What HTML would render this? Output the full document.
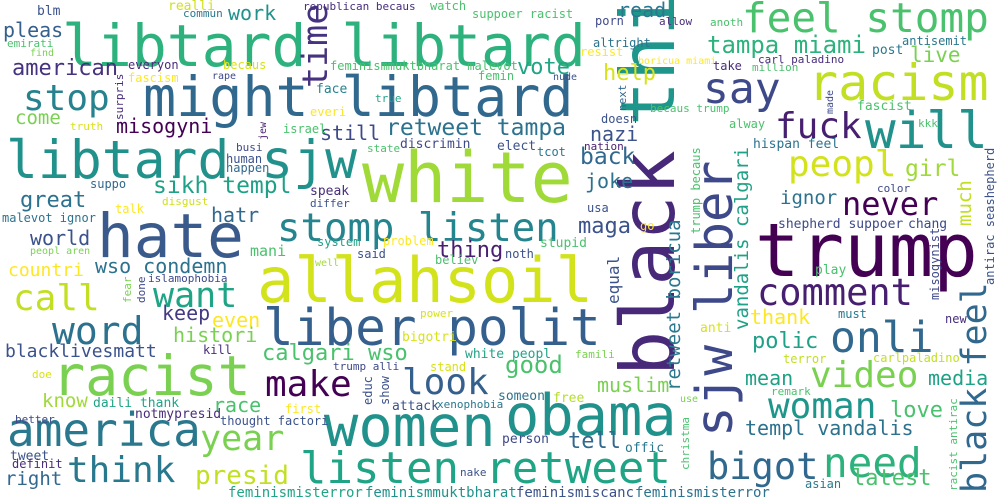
<!DOCTYPE html>
<html>
<head>
<meta charset="utf-8">
<style>
html,body{margin:0;padding:0;background:#fff;}
svg{display:block;}
text{font-family:"DejaVu Sans Mono","Liberation Mono",monospace;}
</style>
</head>
<body>
<svg id="cloud" width="1000" height="500" viewBox="0 0 1000 500">
<rect width="1000" height="500" fill="#ffffff"></rect>
</svg>
<script>
// words, font sizes (frequency weight), placements
const words = ["libtard libtard","time","might libtard","libtard sjw","hate","stomp listen","white","allahsoil","liber polit","black","thi","sjw liber","trump","racist","america","women","obama","listen retweet","feel stomp","racism","will","fuck","say","peopl","girl","never","comment","onli","video","woman","need","bigot","black feel","make","look","year","think","presid","call","want","word","stop","american","pleas","work","retweet tampa","sikh templ","great","hatr","world","still","tampa miami","vote","help","read","back","nazi","joke","maga","misogyni","come","countri","wso condemn","keep","even","histori","blacklivesmatt","calgari wso","know","race","right","good","muslim","tell","polic","thank","mean","media","love","templ vandalis","latest","ignor","live","retweet boricua","vandalis calgari","equal","much","thing"];
const sizes = [58,35,55,53,61,39,70,62,51,75,75,51,74,55,46,57,57,44,41,50,51,36,43,36,23,32,37,43,36,36,41,37,35,36,36,35,36,26,36,35,38,36,22,20,20,23,23,22,20,20,20,24,22,22,20,23,20,20,22,20,19,18,20,20,20,20,18,22,19,20,19,24,20,22,22,20,20,20,22,20,22,19,21,19,19,16,19,22];
const smallWords = ["blm","realli","commun","emirati","find","everyon","becaus","fascism","rape","surpris","truth","face","everi","israel","jew","feminismmuktbharat malevot","busi","human","happen","suppo","speak","differ","disgust","talk","malevot ignor","system","mani","peopl aren","well","islamophobia","fear","done","kill","trump alli","doe","daili thank","first","better","notmypresid","thought factori","tweet","definit","republican becaus","watch","suppoer racist","porn","allow","anoth","altright","resist","boricua miami","take","femin","nude","true","becaus trump","next","doesn","discrimin","elect","tcot","nation","state","trump becaus","usa","go","problem","stupid","said","noth","believ","power","bigotri","anti","white peopl","famili","stand","educ","show","someon","free","use","attack","xenophobia","person","offic","christma","nake","antisemit","post","carl paladino","million","made","fascist","alway","kkk","hispan feel","color","shepherd suppoer","chang","antirac seashepherd","play","misogynist","must","new","terror","carlpaladino","remark","racist antirac","asian","feminismisterror","feminismmuktbharat","feminismiscanc","feminismisterror"];
const smallSizes = [13,13,11,11,10,12,12,12,10,11,11,13,12,12,10,12,11,12,12,12,13,11,11,12,12,12,15,10,10,11,11,11,12,11,11,13,12,11,13,12,13,12,11,12,12,12,11,11,12,12,10,12,12,10,11,11,11,12,13,13,12,11,11,12,12,12,12,13,12,12,12,11,13,13,13,11,12,12,12,13,13,10,13,11,13,13,11,11,12,13,11,11,10,13,12,11,13,11,13,13,12,13,12,12,12,12,12,11,11,12,14,14,14,14];

// layout: [x, baselineY, color, rotated]
const bigLayout = [
[62,66,"#2db27d",0],[327,88,"#46327e",1],[143,116,"#31688e",0],[6,178,"#21918c",0],[97,257,"#3b5a8c",0],
[277,241,"#25858e",0],[362,202,"#a0da39",0],[257,302,"#d2e21b",0],[263,345,"#35608d",0],[674,376,"#482878",1],
[674,126,"#1f968b",1],[732,437,"#3e4989",1],[755,276,"#440154",0],[52,395,"#7ad151",0],[7,446,"#2a788e",0],
[324,446,"#21918c",0],[505,435,"#21918c",0],[300,483,"#20a486",0],[742,32,"#4ac16d",0],[808,100,"#c2df23",0],
[865,148,"#21918c",0],[775,138,"#481f70",0],[703,103,"#3e4989",0],[788,176,"#d2e21b",0],[905,176,"#a0da39",0],
[842,215,"#440154",0],[757,305,"#481f70",0],[830,352,"#31688e",0],[810,387,"#7ad151",0],[768,418,"#1f968b",0],
[823,477,"#2db27d",0],[707,479,"#31688e",0],[986,493,"#31688e",1],[265,396,"#440154",0],[402,394,"#35608d",0],
[200,450,"#7ad151",0],[67,482,"#2a788e",0],[195,484,"#c2df23",0],[13,310,"#c2df23",0],[153,307,"#20a486",0],
[52,344,"#2c728e",0],[23,110,"#26828e",0],[12,75,"#46327e",0],[3,37,"#35608d",0],[228,20,"#21918c",0],
[386,135,"#2c728e",0],[153,193,"#1fa187",0],[20,207,"#2c728e",0],[211,222,"#31688e",0],[30,245,"#3b528b",0],
[320,140,"#3e4989",0],[707,53,"#2db27d",0],[517,74,"#20a486",0],[603,80,"#d8e219",0],[618,17,"#2a788e",0],
[580,164,"#31688e",0],[590,141,"#3b528b",0],[585,188,"#2c728e",0],[578,233,"#3b528b",0],[116,133,"#440154",0],
[15,124,"#7ad151",0],[8,276,"#fde725",0],[95,273,"#2c728e",0],[162,320,"#443a83",0],[212,327,"#fde725",0],
[173,342,"#7ad151",0],[5,357,"#3b528b",0],[262,360,"#4ac16d",0],[42,407,"#a0da39",0],[213,412,"#4ac16d",0],
[5,485,"#31688e",0],[505,373,"#4ac16d",0],[597,392,"#7ad151",0],[568,448,"#31688e",0],[752,348,"#1fa187",0],
[750,324,"#fde725",0],[745,385,"#1fa187",0],[928,385,"#1fa187",0],[890,417,"#4ac16d",0],[745,435,"#2c728e",0],
[852,485,"#4ac16d",0],[780,204,"#2c728e",0],[910,62,"#7ad151",0],[680,391,"#2a788e",1],[748,330,"#1fa187",1],
[619,304,"#3b528b",1],[971,226,"#c2df23",1],[437,257,"#481f70",0]
];
const smallLayout = [
[37,15,"#3b528b",0],[168,10,"#d0e11c",0],[183,17,"#2a788e",0],[7,47,"#4ac16d",0],[30,56,"#7ad151",0],
[128,69,"#472d7b",0],[223,69,"#d8e219",0],[128,82,"#fde725",0],[212,79,"#3e4989",0],[123,120,"#472d7b",1],
[70,130,"#d8e219",0],[316,93,"#26828e",0],[310,116,"#fde725",0],[283,133,"#4ac16d",0],[266,140,"#481f70",1],
[330,70,"#4ac16d",0],[236,151,"#3e4989",0],[226,163,"#3b528b",0],[226,172,"#31688e",0],[90,188,"#31688e",0],
[310,195,"#472d7b",0],[310,207,"#3b528b",0],[162,205,"#d0e11c",0],[115,213,"#fde725",0],[2,222,"#2c728e",0],
[317,246,"#1fa187",0],[250,256,"#4ac16d",0],[30,254,"#7ad151",0],[315,266,"#a0da39",0],[148,282,"#3e4989",0],
[131,303,"#7ad151",1],[145,303,"#3e4989",1],[203,354,"#472d7b",0],[333,370,"#3e4989",0],[32,378,"#d8e219",0],
[93,407,"#20a486",0],[285,413,"#fde725",0],[15,423,"#3e4989",0],[135,418,"#472d7b",0],[220,425,"#3b528b",0],
[10,460,"#3b528b",0],[12,468,"#472d7b",0],[303,10,"#472d7b",0],[430,10,"#4ac16d",0],[472,18,"#4ac16d",0],
[595,25,"#3e4989",0],[659,25,"#472d7b",0],[710,26,"#4ac16d",0],[593,47,"#2c728e",0],[580,56,"#fde725",0],
[638,64,"#fde725",0],[713,70,"#472d7b",0],[478,80,"#4ac16d",0],[553,80,"#3b528b",0],[375,102,"#20a486",0],
[650,112,"#4ac16d",0],[626,111,"#31688e",1],[601,123,"#3b528b",0],[400,148,"#3e4989",0],[497,150,"#3b528b",0],
[537,156,"#2a788e",0],[584,150,"#481f70",0],[367,152,"#4ac16d",0],[700,234,"#4ac16d",1],[587,212,"#3b528b",0],
[640,230,"#fde725",0],[383,245,"#fde725",0],[540,247,"#4ac16d",0],[357,258,"#3b528b",0],[505,258,"#3b528b",0],
[435,264,"#4ac16d",0],[420,317,"#d8e219",0],[402,341,"#d8e219",0],[700,332,"#d8e219",0],[465,358,"#20a486",0],
[575,358,"#7ad151",0],[430,371,"#d8e219",0],[372,405,"#3b528b",1],[389,405,"#3b528b",1],[498,400,"#2c728e",0],
[553,402,"#b5de2b",0],[680,402,"#7ad151",0],[392,410,"#3b528b",0],[437,408,"#2a788e",0],[502,443,"#3e4989",0],
[625,452,"#2a788e",0],[689,470,"#4ac16d",1],[460,476,"#3b528b",0],[902,45,"#2a788e",0],[872,54,"#2a788e",0],
[758,63,"#472d7b",0],[752,71,"#4ac16d",0],[833,114,"#3e4989",1],[857,110,"#4ac16d",0],
[729,128,"#4ac16d",0],[918,127,"#4ac16d",0],[753,148,"#2c728e",0],[877,192,"#3e4989",0],[778,228,"#3e4989",0],
[908,228,"#3e4989",0],[994,285,"#3b528b",1],[815,274,"#4ac16d",0],[939,300,"#3e4989",1],[838,318,"#2a788e",0],
[945,323,"#472d7b",0],[783,363,"#c2df23",0],[873,362,"#c2df23",0],[771,395,"#4ac16d",0],
[957,491,"#4ac16d",1],[805,488,"#2a788e",0],[228,497,"#20a486",0],[365,497,"#21918c",0],[516,497,"#3b528b",0],
[635,497,"#2c728e",0]
];

const svg = document.getElementById('cloud');
const NS = "http://www.w3.org/2000/svg";
function place(list, szs, layout) {
  for (let i = 0; i < list.length; i++) {
    const L = layout[i];
    const t = document.createElementNS(NS, 'text');
    t.setAttribute('x', L[0]);
    t.setAttribute('y', L[1]);
    t.setAttribute('font-size', szs[i]);
    t.setAttribute('fill', L[2]);
    if (L[3]) t.setAttribute('transform', 'rotate(-90 ' + L[0] + ' ' + L[1] + ')');
    t.textContent = list[i];
    
    
    svg.appendChild(t);
  }
}
place(words, sizes, bigLayout);
place(smallWords, smallSizes, smallLayout);
</script>
</body>
</html>
